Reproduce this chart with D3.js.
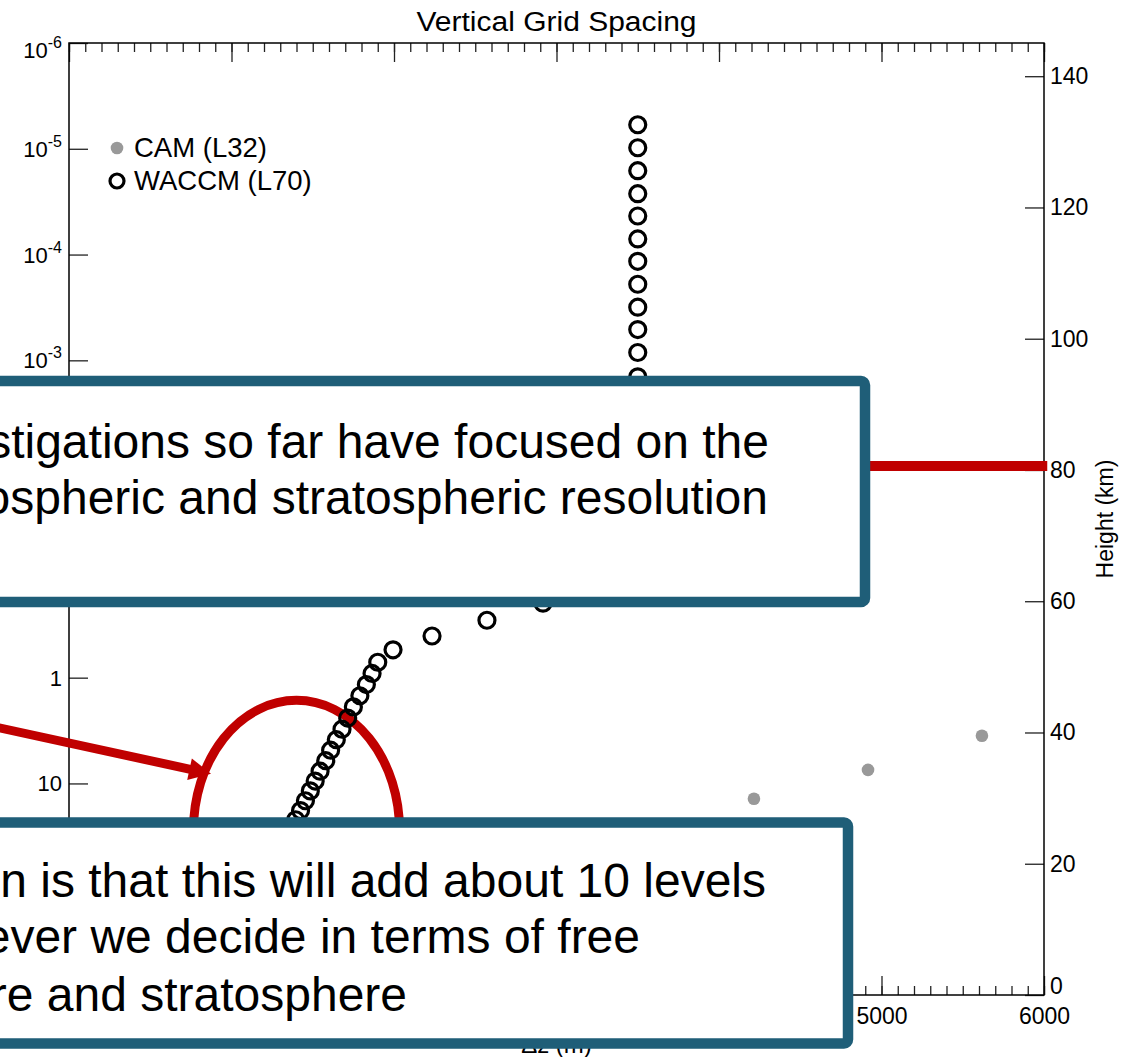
<!DOCTYPE html>
<html>
<head>
<meta charset="utf-8">
<script src="https://cdn.jsdelivr.net/npm/d3@7"></script>
<style>
  body { margin: 0; background: #fff; }
  svg { display: block; font-family: "Liberation Sans", Arial, Helvetica, sans-serif; }
</style>
</head>
<body>
<div id="chart"></div>
<script>
// values
var xTicks = [0, 1000, 2000, 3000, 4000, 5000, 6000];
var xLabels = [5000, 6000];                  // the others sit under the text box
var pTicks = [1e-6, 1e-5, 1e-4, 1e-3, 1e-2, 1e-1, 1, 10, 100, 1000];
var pLabels = [1e-6, 1e-5, 1e-4, 1e-3, 1, 10]; // 1e-2, 1e-1, 100, 1000 are covered
var hTicks = [0, 20, 40, 60, 80, 100, 120, 140];

// CAM (L32): grid spacing (m) and height (km)
var camDz = [4215, 4917, 5618];
var camZ  = [29.9, 34.3, 39.5];

// WACCM (L70): grid spacing (m) and height (km)
var waccmDz = [3500, 3500, 3500, 3500, 3500, 3500, 3500, 3500, 3500, 3500, 3500, 3500,
               2917, 2572, 2234, 1994, 1900, 1865, 1830, 1790, 1750, 1715, 1680, 1645,
               1610, 1580, 1545, 1515, 1485, 1455, 1425, 1395, 1370];
var waccmZ  = [132.6, 129.1, 125.6, 122.1, 118.7, 115.2, 111.8, 108.3, 104.8, 101.4, 97.9, 94.2,
               59.7, 57.1, 54.7, 52.6, 50.7, 49.0, 47.3, 45.6, 43.9, 42.2, 40.5, 38.9,
               37.3, 35.7, 34.1, 32.6, 31.1, 29.6, 28.1, 26.7, 25.3];

var seriesNames = ["CAM (L32)", "WACCM (L70)"];

// slide annotations (data units)
var ringCenter = [1400, 25.1], ringRadius = [634, 19.8];
var arrowFrom = [-1655, 47.3], arrowTo = [874, 33.7];
var lineZ = 80.6, lineDz = [4000, 6020];

var box1Lines = ["stigations so far have focused on the",
                 "ospheric and stratospheric resolution"];
var box2Lines = ["n is that this will add about 10 levels",
                 "ever we decide in terms of free",
                 "re and stratosphere"];

var W = 1124, H = 1057;
var plotL = 69, plotR = 1044, plotT = 43, plotB = 995;
var red = "#c00000", teal = "#1f5e78";

var svg = d3.select("#chart").append("svg")
  .attr("width", W).attr("height", H);

var x = d3.scaleLinear().domain([0, 6000]).range([plotL, plotR]);
var yP = d3.scaleLog().domain([1e-6, 1000]).range([plotT, plotB]);
var yH = d3.scaleLinear().domain([0, 145.06]).range([plotB, plotT]);

// title
svg.append("text")
  .attr("x", (plotL + plotR) / 2).attr("y", 31)
  .attr("text-anchor", "middle")
  .attr("font-size", 27)
  .attr("textLength", 280).attr("lengthAdjust", "spacingAndGlyphs")
  .text("Vertical Grid Spacing");

// top axis, minor + major
svg.append("g")
  .attr("transform", `translate(0,${plotT})`)
  .call(d3.axisTop(x).tickValues(d3.range(0, 6001, 100)).tickSize(-9).tickFormat(""))
  .call(g => g.select(".domain").remove());
svg.append("g")
  .attr("transform", `translate(0,${plotT})`)
  .call(d3.axisTop(x).tickValues(xTicks).tickSize(-19).tickFormat(""))
  .call(g => g.select(".domain").remove());

// bottom axis
svg.append("g")
  .attr("transform", `translate(0,${plotB})`)
  .call(d3.axisBottom(x).tickValues(d3.range(0, 6001, 100)).tickSize(-9).tickFormat(""))
  .call(g => g.select(".domain").remove());
svg.append("g")
  .attr("transform", `translate(0,${plotB})`)
  .call(d3.axisBottom(x).tickValues(xTicks).tickSize(-19).tickFormat(""))
  .call(g => g.select(".domain").remove());
var xLabG = svg.append("g")
  .attr("transform", `translate(0,${plotB})`)
  .call(d3.axisBottom(x).tickValues(xLabels).tickSize(0).tickPadding(13).tickFormat(d3.format("d")))
  .call(g => g.select(".domain").remove());
xLabG.selectAll("text").attr("font-size", 23).attr("fill", "#000");

svg.append("text")
  .attr("x", (plotL + plotR) / 2).attr("y", 1053)
  .attr("text-anchor", "middle")
  .attr("font-size", 24)
  .text("\u0394z (m)");

// left axis (pressure)
svg.append("g")
  .attr("transform", `translate(${plotL},0)`)
  .call(d3.axisLeft(yP).tickValues(pTicks).tickSize(-19).tickFormat(""))
  .call(g => g.select(".domain").remove());

var pLab = svg.append("g").attr("font-size", 22).attr("text-anchor", "end");
pLabels.forEach(function(p, i) {
  var e = Math.round(Math.log10(p));
  var yy = yP(p) + 8 + (i === 0 ? 7 : 0);
  var t = pLab.append("text").attr("x", plotL - 7).attr("y", yy);
  if (e >= 0) {
    t.text(d3.format("d")(p));
  } else {
    t.append("tspan").text("10");
    t.append("tspan").attr("font-size", 16).attr("dy", -10).text(String(e));
  }
});

// right axis (height)
var hAxisG = svg.append("g")
  .attr("transform", `translate(${plotR},0)`)
  .call(d3.axisRight(yH).tickValues(hTicks).tickSize(-19).tickPadding(6))
  .call(g => g.select(".domain").remove());
hAxisG.selectAll("text").attr("font-size", 23).attr("fill", "#000")
  .attr("dy", d => d === 0 ? "-0.05em" : "0.32em");

svg.append("text")
  .attr("transform", `translate(1113,${(plotT + plotB) / 2}) rotate(-90)`)
  .attr("text-anchor", "middle")
  .attr("font-size", 23)
  .text("Height (km)");

// frame
svg.append("rect")
  .attr("x", plotL).attr("y", plotT)
  .attr("width", plotR - plotL).attr("height", plotB - plotT)
  .attr("fill", "none").attr("stroke", "#000").attr("stroke-width", 1.5);

svg.selectAll(".tick line").attr("stroke", "#222").attr("stroke-width", 1.3);

// red ring behind the circles
svg.append("ellipse")
  .attr("cx", x(ringCenter[0])).attr("cy", yH(ringCenter[1]))
  .attr("rx", x(ringCenter[0] + ringRadius[0]) - x(ringCenter[0]))
  .attr("ry", yH(ringCenter[1]) - yH(ringCenter[1] + ringRadius[1]))
  .attr("fill", "none").attr("stroke", red).attr("stroke-width", 9);

// CAM points
svg.append("g").selectAll("circle")
  .data(camDz.map((d, i) => [d, camZ[i]]))
  .enter().append("circle")
  .attr("cx", d => x(d[0])).attr("cy", d => yH(d[1]))
  .attr("r", 6.3).attr("fill", "#999");

// WACCM points
svg.append("g").selectAll("circle")
  .data(waccmDz.map((d, i) => [d, waccmZ[i]]))
  .enter().append("circle")
  .attr("cx", d => x(d[0])).attr("cy", d => yH(d[1]))
  .attr("r", 8).attr("fill", "none").attr("stroke", "#000").attr("stroke-width", 3.2);

// legend
var leg = svg.append("g").attr("font-size", 27.5);
leg.append("circle").attr("cx", 117).attr("cy", 148).attr("r", 6.3).attr("fill", "#999");
leg.append("circle").attr("cx", 117).attr("cy", 181).attr("r", 7).attr("fill", "none")
  .attr("stroke", "#000").attr("stroke-width", 3.2);
leg.append("text").attr("x", 134).attr("y", 157).text(seriesNames[0]);
leg.append("text").attr("x", 134).attr("y", 190).text(seriesNames[1]);

// arrow
var ax0 = x(arrowFrom[0]), ay0 = yH(arrowFrom[1]);
var ax1 = x(arrowTo[0]), ay1 = yH(arrowTo[1]);
var ang = Math.atan2(ay1 - ay0, ax1 - ax0);
var headL = 22, headW = 11;
var hbx = ax1 - headL * Math.cos(ang), hby = ay1 - headL * Math.sin(ang);
svg.append("line")
  .attr("x1", ax0).attr("y1", ay0)
  .attr("x2", hbx + 2 * Math.cos(ang)).attr("y2", hby + 2 * Math.sin(ang))
  .attr("stroke", red).attr("stroke-width", 9);
svg.append("path")
  .attr("d", d3.line()([
    [ax1, ay1],
    [hbx + headW * Math.sin(ang), hby - headW * Math.cos(ang)],
    [hbx - headW * Math.sin(ang), hby + headW * Math.cos(ang)]
  ]) + "Z")
  .attr("fill", red);

// red line at the mesosphere level
svg.append("line")
  .attr("x1", x(lineDz[0])).attr("x2", x(lineDz[1]))
  .attr("y1", yH(lineZ)).attr("y2", yH(lineZ))
  .attr("stroke", red).attr("stroke-width", 10);

// text boxes
function textBox(bx0, by0, bx1, by1, lines, ends, baselines) {
  var g = svg.append("g");
  g.append("rect")
    .attr("x", bx0).attr("y", by0)
    .attr("width", bx1 - bx0).attr("height", by1 - by0)
    .attr("rx", 4)
    .attr("fill", "#fff").attr("stroke", teal).attr("stroke-width", 10.5)
    .attr("stroke-linejoin", "round");
  lines.forEach(function(s, i) {
    g.append("text")
      .attr("x", ends[i]).attr("y", baselines[i])
      .attr("text-anchor", "end")
      .attr("font-size", 48)
      .text(s);
  });
}
textBox(-40, 381, 865, 602, box1Lines, [769, 768], [458, 514]);
textBox(-40, 822.5, 848, 1043.5, box2Lines, [766, 640, 407], [897, 953, 1011]);
</script>
</body>
</html>
